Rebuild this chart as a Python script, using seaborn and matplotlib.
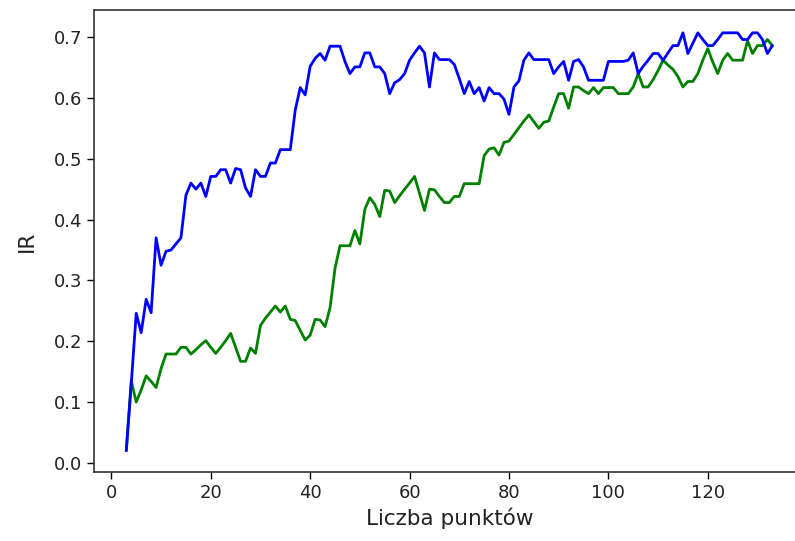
import matplotlib
matplotlib.use("Agg")
import matplotlib.pyplot as plt
import seaborn as sns
import pandas as pd

x_points = list(range(3, 134))

ir_blue = [
    0.02, 0.13, 0.246, 0.214, 0.269, 0.247, 0.37, 0.325, 0.348, 0.35,      # 3-12
    0.36, 0.37, 0.44, 0.46, 0.45, 0.46, 0.438, 0.471, 0.471, 0.482,         # 13-22
    0.482, 0.46, 0.484, 0.482, 0.452, 0.438, 0.482, 0.471, 0.471, 0.493,    # 23-32
    0.493, 0.515, 0.515, 0.515, 0.58, 0.617, 0.605, 0.652, 0.665, 0.673,    # 33-42
    0.662, 0.685, 0.685, 0.685, 0.66, 0.64, 0.651, 0.651, 0.674, 0.674,     # 43-52
    0.651, 0.651, 0.64, 0.607, 0.625, 0.63, 0.64, 0.662, 0.674, 0.685,      # 53-62
    0.674, 0.618, 0.674, 0.663, 0.663, 0.663, 0.655, 0.632, 0.607, 0.627,   # 63-72
    0.607, 0.617, 0.595, 0.617, 0.607, 0.607, 0.598, 0.573, 0.618, 0.628,   # 73-82
    0.662, 0.674, 0.663, 0.663, 0.663, 0.663, 0.64, 0.651, 0.66, 0.629,     # 83-92
    0.66, 0.663, 0.651, 0.629, 0.629, 0.629, 0.629, 0.66, 0.66, 0.66,       # 93-102
    0.66, 0.662, 0.674, 0.64, 0.652, 0.662, 0.673, 0.673, 0.662, 0.674,     # 103-112
    0.686, 0.686, 0.707, 0.673, 0.69, 0.707, 0.696, 0.686, 0.686, 0.696,    # 113-122
    0.707, 0.707, 0.707, 0.707, 0.696, 0.696, 0.707, 0.707, 0.696, 0.673,   # 123-132
    0.686,                                                                  # 133
]

ir_green = [
    0.02, 0.135, 0.10, 0.12, 0.143, 0.134, 0.124, 0.155, 0.179, 0.179,      # 3-12
    0.179, 0.19, 0.19, 0.179, 0.186, 0.194, 0.201, 0.19, 0.18, 0.19,        # 13-22
    0.201, 0.213, 0.19, 0.167, 0.167, 0.189, 0.18, 0.226, 0.238, 0.248,     # 23-32
    0.258, 0.248, 0.258, 0.236, 0.234, 0.218, 0.202, 0.21, 0.236, 0.235,    # 33-42
    0.224, 0.255, 0.32, 0.357, 0.357, 0.357, 0.382, 0.36, 0.417, 0.436,     # 43-52
    0.425, 0.405, 0.448, 0.447, 0.428, 0.439, 0.45, 0.46, 0.471, 0.443,     # 53-62
    0.415, 0.45, 0.449, 0.438, 0.428, 0.428, 0.438, 0.438, 0.459, 0.459,    # 63-72
    0.459, 0.459, 0.505, 0.516, 0.518, 0.506, 0.527, 0.529, 0.54, 0.551,    # 73-82
    0.562, 0.572, 0.561, 0.55, 0.56, 0.562, 0.585, 0.607, 0.607, 0.583,     # 83-92
    0.618, 0.618, 0.612, 0.607, 0.617, 0.607, 0.617, 0.617, 0.617, 0.607,   # 93-102
    0.607, 0.607, 0.618, 0.64, 0.618, 0.618, 0.63, 0.645, 0.662, 0.654,     # 103-112
    0.647, 0.635, 0.618, 0.627, 0.627, 0.64, 0.662, 0.681, 0.659, 0.64,     # 113-122
    0.662, 0.673, 0.662, 0.662, 0.662, 0.694, 0.673, 0.686, 0.686, 0.696,   # 123-132
    0.686,                                                                  # 133
]

x_label = "Liczba punktów"
y_label = "IR"

sns.set_style("ticks")
plt.rcParams["font.family"] = ["DejaVu Sans"]

fig = plt.figure(figsize=(7.95, 5.41), dpi=100)
ax = fig.add_axes([0.1182, 0.128, 0.894, 0.8535])

df_g = pd.DataFrame({"x": x_points, "ir": ir_green})
df_b = pd.DataFrame({"x": x_points, "ir": ir_blue})
sns.lineplot(data=df_g, x="x", y="ir", color="green", linewidth=2, ax=ax)
sns.lineplot(data=df_b, x="x", y="ir", color="blue", linewidth=2, ax=ax)

ax.set_xlim(-3.5, 139.5)
ax.set_ylim(-0.0145, 0.7445)
ax.set_xticks([0, 20, 40, 60, 80, 100, 120])
ax.set_yticks([0.0, 0.1, 0.2, 0.3, 0.4, 0.5, 0.6, 0.7])
ax.tick_params(axis="both", labelsize=13, length=5, width=1, color="black", labelcolor="#222222")
for s in ax.spines.values():
    s.set_color("#333333")
    s.set_linewidth(1.2)
ax.set_xlabel(x_label, fontsize=15.5, color="#222222")
ax.set_ylabel(y_label, fontsize=15.5, color="#222222", labelpad=12)

fig.savefig("out.png", dpi=100)
